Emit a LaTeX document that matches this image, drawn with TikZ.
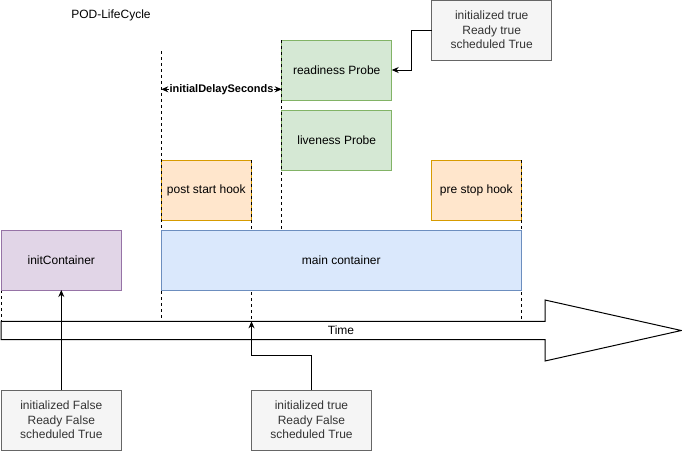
\documentclass[tikz,border=0pt]{standalone}
\usepackage{fontspec}
\setmainfont{Liberation Sans}
\usetikzlibrary{arrows.meta}

\definecolor{probefill}{HTML}{D5E8D4}\definecolor{probeline}{HTML}{82B366}
\definecolor{hookfill}{HTML}{FFE6CC}\definecolor{hookline}{HTML}{D79B00}
\definecolor{mainfill}{HTML}{DAE8FC}\definecolor{mainline}{HTML}{6C8EBF}
\definecolor{initfill}{HTML}{E1D5E7}\definecolor{initline}{HTML}{9673A6}
\definecolor{statefill}{HTML}{F5F5F5}\definecolor{stateline}{HTML}{666666}
\definecolor{statetext}{HTML}{333333}

\begin{document}
\begin{tikzpicture}[x=1pt, y=-1pt,
  lbl/.style={font=\fontsize{12}{14.5}\selectfont},
  stage/.style={lbl, draw, line width=1pt, minimum height=60pt, inner sep=0pt, outer sep=0pt, align=center},
  probe/.style={stage, fill=probefill, draw=probeline, minimum width=110pt},
  hook/.style={stage, fill=hookfill, draw=hookline, minimum width=90pt},
  state/.style={stage, fill=statefill, draw=stateline, text=statetext, minimum width=120pt},
  guide/.style={draw, line width=1pt, dash pattern=on 3pt off 3pt},
  conn/.style={line width=1pt, -{Stealth[length=7pt,width=6pt]}},
]
\useasboundingbox (0,0) rectangle (682,451);

% title
\node[lbl] (title) at (111,15) {POD-LifeCycle};

% probes and lifecycle hooks
\node[probe] (ready) at (336.7,70) {readiness Probe};
\node[probe] (live)  at (336.7,140.3) {liveness Probe};
\node[hook] (post) at (206.3,190.2) {post start hook};
\node[hook] (pre)  at (476.3,190.2) {pre stop hook};

% time marks
\draw[guide] (1,230) -- (1,321);
\draw[guide] (161.3,51) -- (161.3,324);
\draw[guide] (251.5,160) -- (251.5,321);
\draw[guide] (281.7,40) -- (281.7,230);
\draw[guide] (521.3,160) -- (521.3,321);

% containers
\node[stage, fill=initfill, draw=initline, minimum width=120pt] (init) at (61.3,260) {initContainer};
\node[stage, fill=mainfill, draw=mainline, minimum width=360pt] (main) at (341.3,260) {main container};

% time axis
\draw[line width=1pt, fill=white, line join=miter]
  (1,321.3) -- (545,321.3) -- (545,300) -- (681.3,330.5) -- (545,361) -- (545,339.7) -- (1,339.7) -- cycle;
\node[lbl] (timelabel) at (341,330.5) {Time};

% initial delay
\draw[line width=1pt, {Stealth[length=7pt,width=6pt]}-{Stealth[length=7pt,width=6pt]}]
  (161.3,89.3) -- node[fill=white, inner sep=1pt, font=\bfseries\fontsize{11}{13}\selectfont] (delay) {initialDelaySeconds} (281.7,89.3);

% pod conditions
\node[state] (st1) at (61.3,420) {initialized False\\Ready False\\scheduled True};
\node[state] (st2) at (311.5,420) {initialized true\\Ready False\\scheduled True};
\node[state] (st3) at (491.7,30) {initialized true\\Ready true\\scheduled True};

\coordinate (tmark) at (251.5,321.3);
\coordinate (lowbend) at (0,355.7);
\coordinate (topbend) at (411.7,50);

\draw[conn] (st1.north) -- (init.south);
\draw[conn] (st2.north) -- (st2.north |- lowbend) -| (tmark);
\draw[conn] (st3.west) -| (topbend) |- (ready.east);
\end{tikzpicture}
\end{document}
